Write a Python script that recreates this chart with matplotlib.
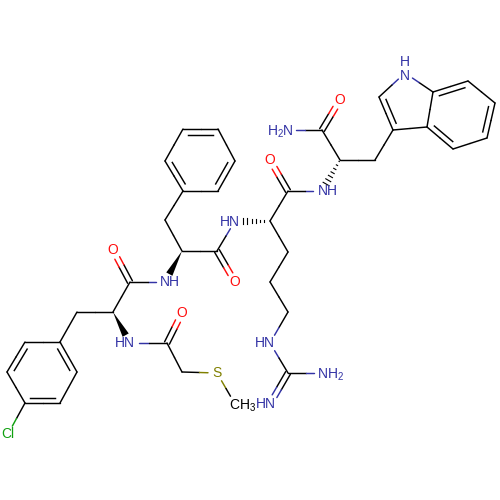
import matplotlib
matplotlib.use('Agg')
import matplotlib.pyplot as plt
import numpy as np

plt.rcParams['mathtext.default'] = 'regular'
plt.rcParams['mathtext.fontset'] = 'custom'
plt.rcParams['mathtext.rm'] = 'Liberation Sans'

###  DATA  ###

# atom positions (pixels, y down)
atom_x = [405, 379, 393, 427, 433, 468, 495, 487, 453, 375, 340, 322, 340, 287,
          322, 288, 270, 270, 288, 270, 288, 270, 288, 323, 270, 235, 217, 235,
          182, 165, 183, 218, 235, 218, 183, 165, 165, 130, 113, 113, 77, 60,
          77, 60, 25, 7, 25, 8, 130, 167, 182, 182, 217, 235]
atom_y = [73, 97, 130, 127, 92, 81, 103, 138, 149, 160, 160, 130, 100, 130,
          191, 191, 160, 221, 252, 282, 312, 343, 373, 373, 404, 221, 251, 282,
          251, 220, 191, 191, 161, 129, 129, 161, 282, 282, 250, 312, 312, 342,
          372, 403, 403, 372, 342, 434, 343, 343, 313, 372, 373, 404]
atom_elem = ['N', 'C', 'C', 'C', 'C', 'C', 'C', 'C', 'C', 'C', 'C', 'C', 'O', 'N',
             'N', 'C', 'O', 'C', 'C', 'C', 'C', 'N', 'C', 'N', 'N', 'N', 'C', 'O',
             'C', 'C', 'C', 'C', 'C', 'C', 'C', 'C', 'N', 'C', 'O', 'C', 'C', 'C',
             'C', 'C', 'C', 'C', 'C', 'Cl', 'N', 'C', 'O', 'C', 'S', 'CH3']

# 1 single, 2 double, 3 ring double, 4 wedge, 5 hash
bond_a = [0, 1, 2, 3, 4, 5, 6, 7, 8, 4, 2, 9, 10, 11, 11, 10, 14, 15, 15, 17, 18,
          19, 20, 21, 22, 22, 17, 25, 26, 26, 28, 29, 30, 31, 32, 33, 34, 35, 28,
          36, 37, 37, 39, 40, 41, 42, 43, 44, 45, 46, 44, 39, 48, 49, 49, 51, 52]
bond_b = [1, 2, 3, 4, 0, 6, 7, 8, 3, 5, 9, 10, 11, 12, 13, 14, 15, 16, 17, 18, 19,
          20, 21, 22, 23, 24, 25, 26, 27, 28, 29, 30, 31, 32, 33, 34, 35, 30, 36,
          37, 38, 39, 40, 41, 42, 43, 44, 45, 46, 41, 47, 48, 49, 50, 51, 52, 53]
bond_order = [1, 3, 1, 1, 1, 1, 3, 1, 3, 3, 1, 1, 1, 2, 1, 5, 1, 2, 1, 1, 1,
              1, 1, 1, 1, 2, 5, 1, 2, 1, 1, 1, 1, 3, 1, 3, 1, 3, 4,
              1, 2, 1, 1, 1, 3, 1, 3, 1, 3, 1, 1, 4, 1, 2, 1, 1, 1]

rings = [[0, 1, 2, 3, 4], [3, 4, 5, 6, 7, 8], [30, 31, 32, 33, 34, 35],
         [41, 42, 43, 44, 45, 46]]

# atom labels: text, centre x, centre y, colour key
label_text = ['N', 'H', 'O', 'H$_2$N', 'NH', 'O', 'HN', 'O', 'NH', 'O', 'HN', 'O',
              'Cl', 'S', 'CH$_3$', 'HN', 'NH$_2$', 'HN']
label_x = [405, 405, 340, 280, 328, 270, 230, 235, 170, 113, 125, 182,
           8, 217, 243, 265, 331, 266]
label_y = [76, 62, 100, 132, 191, 160, 222, 282, 282, 250, 343, 313,
           434, 373, 406, 343, 375, 404]
label_elem = ['N', 'N', 'O', 'N', 'N', 'O', 'N', 'O', 'N', 'O', 'N', 'O',
              'Cl', 'S', 'CH3', 'N', 'N', 'N']

colors = {'C': '#000000', 'CH3': '#000000', 'N': '#3333a5', 'O': '#ff0d0d',
          'S': '#808000', 'Cl': '#10a010'}

###  PLOT  ###

fig = plt.figure(figsize=(5, 5), dpi=100)
ax = fig.add_axes([0, 0, 1, 1])
ax.set_xlim(0, 500)
ax.set_ylim(500, 0)
ax.axis('off')

lw = 1.05
gap = 9.0


def seg(p, q, ea, eb):
    # two coloured halves, cut short at labelled atoms
    d = (q-p)/np.linalg.norm(q-p)
    m = (p+q)/2
    s = p + d*(gap if ea != 'C' else 0)
    e = q - d*(gap if eb != 'C' else 0)
    ax.plot([s[0], m[0]], [s[1], m[1]], color=colors[ea], lw=lw, solid_capstyle='round')
    ax.plot([m[0], e[0]], [m[1], e[1]], color=colors[eb], lw=lw, solid_capstyle='round')


for a, b, o in zip(bond_a, bond_b, bond_order):
    p = np.array([atom_x[a], atom_y[a]], float)
    q = np.array([atom_x[b], atom_y[b]], float)
    ea, eb = atom_elem[a], atom_elem[b]
    d = (q-p)/np.linalg.norm(q-p)
    n = np.array([-d[1], d[0]])
    if o == 1:
        seg(p, q, ea, eb)
    elif o == 2:
        seg(p+n*2.7, q+n*2.7, ea, eb)
        seg(p-n*2.7, q-n*2.7, ea, eb)
    elif o == 3:
        seg(p, q, ea, eb)
        r = [r for r in rings if a in r and b in r][-1]
        c = np.array([np.mean([atom_x[i] for i in r]), np.mean([atom_y[i] for i in r])])
        if np.dot(c-p, n) < 0:
            n = -n
        ax.plot(*zip(p+n*5.5+d*5, q+n*5.5-d*5), color='k', lw=lw)
    elif o == 4:
        tip = q - d*gap
        ax.fill(*zip(p, tip+n*3.5, tip-n*3.5), color='k', lw=0)
    elif o == 5:
        L = np.linalg.norm(q-p) - gap*0.9
        for t in np.linspace(0.06, 1, 7):
            c = p + d*L*t
            w = 3.4*t
            ax.plot(*zip(c+n*w, c-n*w), color='k', lw=0.8)

for txt, x, y, el in zip(label_text, label_x, label_y, label_elem):
    ax.text(x, y, txt, color=colors[el], fontsize=10, ha='center', va='center',
            family='Liberation Sans')

fig.savefig('out.png', dpi=100, facecolor='white')
